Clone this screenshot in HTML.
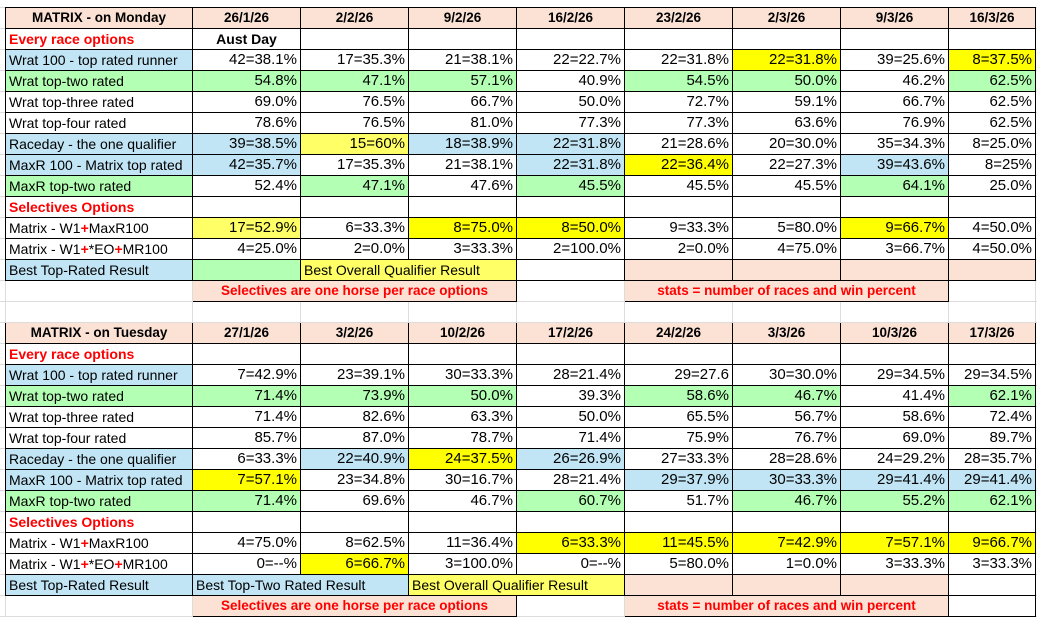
<!DOCTYPE html>
<html><head><meta charset="utf-8"><style>
body{margin:0;width:1037px;height:620px;background:#fff;overflow:hidden;
background-image:linear-gradient(#dcdcdc 1px,transparent 1px);background-size:100% 21px;background-position:0 7px;}
table{position:absolute;left:5px;top:7px;border-collapse:collapse;table-layout:fixed;font-family:"Liberation Sans",sans-serif;font-size:15px;color:#000}
td{height:20px;padding:0 3px;border:1px solid #000;white-space:nowrap;overflow:hidden;text-align:right;line-height:20px;background:#fff}
td.l{text-align:left;font-size:14px}
td.c{text-align:center}
.h td{background:#fbe2d5;font-weight:bold;text-align:center;font-size:13.5px}
.s{background:#fbe2d5}
.b{background:#c1e5f5}
.g{background:#b3ffb3}
.y{background:#ffff00}
.p{background:#ffff66}
.r{color:#f00;font-weight:bold}
td.c.r{font-size:13.5px}
.n{border-color:#dcdcdc;background:transparent}
.pl{color:#f00;font-weight:bold}
</style></head><body>
<table>
<colgroup><col style="width:187px"><col style="width:108px"><col style="width:108px"><col style="width:108px"><col style="width:108px"><col style="width:108px"><col style="width:108px"><col style="width:108px"><col style="width:87px"></colgroup>
<tr class="h"><td>MATRIX - on Monday</td><td>26/1/26</td><td>2/2/26</td><td>9/2/26</td><td>16/2/26</td><td>23/2/26</td><td>2/3/26</td><td>9/3/26</td><td>16/3/26</td></tr>
<tr><td class="l r">Every race options</td><td class="c" style="font-weight:bold;font-size:14px">Aust Day</td><td></td><td></td><td></td><td></td><td></td><td></td><td></td></tr>
<tr><td class="l b">Wrat 100 - top rated runner</td><td>42=38.1%</td><td>17=35.3%</td><td>21=38.1%</td><td>22=22.7%</td><td>22=31.8%</td><td class="y">22=31.8%</td><td>39=25.6%</td><td class="y">8=37.5%</td></tr>
<tr><td class="l g">Wrat top-two rated</td><td class="g">54.8%</td><td class="g">47.1%</td><td class="g">57.1%</td><td>40.9%</td><td class="g">54.5%</td><td class="g">50.0%</td><td>46.2%</td><td class="g">62.5%</td></tr>
<tr><td class="l">Wrat top-three rated</td><td>69.0%</td><td>76.5%</td><td>66.7%</td><td>50.0%</td><td>72.7%</td><td>59.1%</td><td>66.7%</td><td>62.5%</td></tr>
<tr><td class="l">Wrat top-four rated</td><td>78.6%</td><td>76.5%</td><td>81.0%</td><td>77.3%</td><td>77.3%</td><td>63.6%</td><td>76.9%</td><td>62.5%</td></tr>
<tr><td class="l b">Raceday - the one qualifier</td><td class="b">39=38.5%</td><td class="p">15=60%</td><td class="b">18=38.9%</td><td class="b">22=31.8%</td><td>21=28.6%</td><td>20=30.0%</td><td>35=34.3%</td><td>8=25.0%</td></tr>
<tr><td class="l b">MaxR 100 - Matrix top rated</td><td class="b">42=35.7%</td><td>17=35.3%</td><td>21=38.1%</td><td class="b">22=31.8%</td><td class="y">22=36.4%</td><td>22=27.3%</td><td class="b">39=43.6%</td><td>8=25%</td></tr>
<tr><td class="l g">MaxR top-two rated</td><td>52.4%</td><td class="g">47.1%</td><td>47.6%</td><td class="g">45.5%</td><td>45.5%</td><td>45.5%</td><td class="g">64.1%</td><td>25.0%</td></tr>
<tr><td class="l r">Selectives Options</td><td></td><td></td><td></td><td></td><td></td><td></td><td></td><td></td></tr>
<tr><td class="l">Matrix - W1<span class="pl">+</span>MaxR100</td><td class="p">17=52.9%</td><td>6=33.3%</td><td class="y">8=75.0%</td><td class="y">8=50.0%</td><td>9=33.3%</td><td>5=80.0%</td><td class="y">9=66.7%</td><td>4=50.0%</td></tr>
<tr><td class="l">Matrix - W1<span class="pl">+</span>*EO<span class="pl">+</span>MR100</td><td>4=25.0%</td><td>2=0.0%</td><td>3=33.3%</td><td>2=100.0%</td><td>2=0.0%</td><td>4=75.0%</td><td>3=66.7%</td><td>4=50.0%</td></tr>
<tr><td class="l b">Best Top-Rated Result</td><td class="g"></td><td class="l p" colspan="2">Best Overall Qualifier Result</td><td></td><td class="s"></td><td class="s"></td><td class="s"></td><td class="s"></td></tr>
<tr><td class="n"></td><td class="c s r" colspan="3">Selectives are one horse per race options</td><td class="n"></td><td class="c s r" colspan="3">stats = number of races and win percent</td><td class="n"></td></tr>
<tr><td class="n"></td><td class="n"></td><td class="n"></td><td class="n"></td><td class="n"></td><td class="n"></td><td class="n"></td><td class="n"></td><td class="n"></td></tr>
<tr class="h"><td>MATRIX - on Tuesday</td><td>27/1/26</td><td>3/2/26</td><td>10/2/26</td><td>17/2/26</td><td>24/2/26</td><td>3/3/26</td><td>10/3/26</td><td>17/3/26</td></tr>
<tr><td class="l r">Every race options</td><td></td><td></td><td></td><td></td><td></td><td></td><td></td><td></td></tr>
<tr><td class="l b">Wrat 100 - top rated runner</td><td>7=42.9%</td><td>23=39.1%</td><td>30=33.3%</td><td>28=21.4%</td><td>29=27.6</td><td>30=30.0%</td><td>29=34.5%</td><td>29=34.5%</td></tr>
<tr><td class="l g">Wrat top-two rated</td><td class="g">71.4%</td><td class="g">73.9%</td><td class="g">50.0%</td><td>39.3%</td><td class="g">58.6%</td><td class="g">46.7%</td><td>41.4%</td><td class="g">62.1%</td></tr>
<tr><td class="l">Wrat top-three rated</td><td>71.4%</td><td>82.6%</td><td>63.3%</td><td>50.0%</td><td>65.5%</td><td>56.7%</td><td>58.6%</td><td>72.4%</td></tr>
<tr><td class="l">Wrat top-four rated</td><td>85.7%</td><td>87.0%</td><td>78.7%</td><td>71.4%</td><td>75.9%</td><td>76.7%</td><td>69.0%</td><td>89.7%</td></tr>
<tr><td class="l b">Raceday - the one qualifier</td><td>6=33.3%</td><td class="b">22=40.9%</td><td class="y">24=37.5%</td><td class="b">26=26.9%</td><td>27=33.3%</td><td>28=28.6%</td><td>24=29.2%</td><td>28=35.7%</td></tr>
<tr><td class="l b">MaxR 100 - Matrix top rated</td><td class="y">7=57.1%</td><td>23=34.8%</td><td>30=16.7%</td><td>28=21.4%</td><td class="b">29=37.9%</td><td class="b">30=33.3%</td><td class="b">29=41.4%</td><td class="b">29=41.4%</td></tr>
<tr><td class="l g">MaxR top-two rated</td><td class="g">71.4%</td><td>69.6%</td><td>46.7%</td><td class="g">60.7%</td><td>51.7%</td><td class="g">46.7%</td><td class="g">55.2%</td><td class="g">62.1%</td></tr>
<tr><td class="l r">Selectives Options</td><td></td><td></td><td></td><td></td><td></td><td></td><td></td><td></td></tr>
<tr><td class="l">Matrix - W1<span class="pl">+</span>MaxR100</td><td>4=75.0%</td><td>8=62.5%</td><td>11=36.4%</td><td class="y">6=33.3%</td><td class="y">11=45.5%</td><td class="y">7=42.9%</td><td class="y">7=57.1%</td><td class="y">9=66.7%</td></tr>
<tr><td class="l">Matrix - W1<span class="pl">+</span>*EO<span class="pl">+</span>MR100</td><td>0=--%</td><td class="y">6=66.7%</td><td>3=100.0%</td><td>0=--%</td><td>5=80.0%</td><td>1=0.0%</td><td>3=33.3%</td><td>3=33.3%</td></tr>
<tr><td class="l b">Best Top-Rated Result</td><td class="l b" colspan="2">Best Top-Two Rated Result</td><td class="l p" colspan="2">Best Overall Qualifier Result</td><td class="s"></td><td class="s"></td><td class="s"></td><td></td></tr>
<tr><td class="n"></td><td class="c s r" colspan="3">Selectives are one horse per race options</td><td class="n"></td><td class="c s r" colspan="3">stats = number of races and win percent</td><td></td></tr>
</table>
</body></html>
